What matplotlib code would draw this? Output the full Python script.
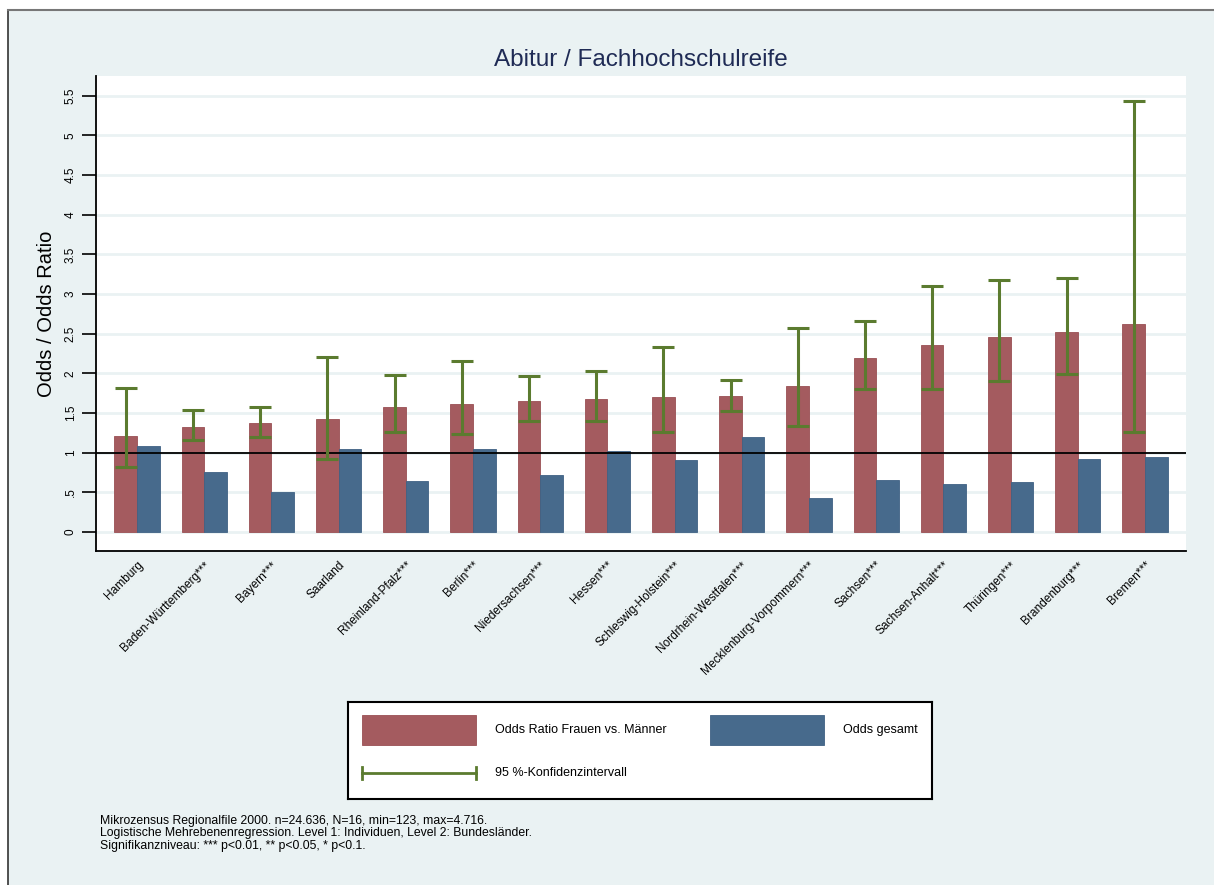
import matplotlib
matplotlib.use("Agg")
import matplotlib.pyplot as plt
import numpy as np
from matplotlib.patches import Rectangle
from matplotlib.lines import Line2D

plt.rcParams["font.family"] = ["Liberation Sans", "DejaVu Sans"]

# data
laender = ["Hamburg", "Baden-Württemberg***", "Bayern***", "Saarland",
           "Rheinland-Pfalz***", "Berlin***", "Niedersachsen***", "Hessen***",
           "Schleswig-Holstein***", "Nordrhein-Westfalen***",
           "Mecklenburg-Vorpommern***", "Sachsen***", "Sachsen-Anhalt***",
           "Thüringen***", "Brandenburg***", "Bremen***"]
odds_ratio = [1.21, 1.33, 1.37, 1.42, 1.57, 1.62, 1.65, 1.68,
              1.70, 1.71, 1.84, 2.19, 2.36, 2.46, 2.52, 2.62]
ci_lower = [0.82, 1.16, 1.20, 0.92, 1.26, 1.23, 1.40, 1.40,
            1.26, 1.52, 1.34, 1.80, 1.80, 1.90, 1.99, 1.26]
ci_upper = [1.81, 1.54, 1.57, 2.21, 1.98, 2.15, 1.97, 2.03,
            2.33, 1.92, 2.57, 2.66, 3.10, 3.18, 3.20, 5.44]
odds_gesamt = [1.09, 0.76, 0.50, 1.05, 0.64, 1.05, 0.72, 1.02,
               0.91, 1.20, 0.43, 0.66, 0.60, 0.63, 0.92, 0.94]
yticks = [0, 0.5, 1, 1.5, 2, 2.5, 3, 3.5, 4, 4.5, 5, 5.5]
ytick_labels = ["0", ".5", "1", "1.5", "2", "2.5", "3", "3.5", "4", "4.5", "5", "5.5"]

RED = "#A45B5F"
RED_EDGE = "#9A4F54"
BLUE = "#476A8C"
BLUE_EDGE = "#3F6184"
GREEN = "#5B7B2F"
BG = "#EAF2F3"
W, H = 1214, 885

fig = plt.figure(figsize=(W / 100, H / 100), dpi=100, facecolor="white")
fig.patches.append(Rectangle((8 / W, 0), 1 - 8 / W, 1 - 10 / H, transform=fig.transFigure,
                             facecolor=BG, edgecolor="none", zorder=-10))
fig.lines.append(Line2D([8 / W, 8 / W], [0, 1 - 10 / H], transform=fig.transFigure,
                        color="#333333", lw=1.2))
fig.lines.append(Line2D([8 / W, 1], [1 - 10 / H, 1 - 10 / H], transform=fig.transFigure,
                        color="#777777", lw=1.5))

ax = fig.add_axes([96 / W, 1 - 551 / H, (1186 - 96) / W, (551 - 76) / H])
ax.set_facecolor("white")

x = np.arange(len(laender))
bw = 0.335
ax.bar(x - bw / 2, odds_ratio, bw, color=RED, edgecolor=RED_EDGE, linewidth=0.6, zorder=3)
ax.bar(x + bw / 2, odds_gesamt, bw, color=BLUE, edgecolor=BLUE_EDGE, linewidth=0.6, zorder=3)
orr = np.array(odds_ratio)
err = [orr - np.array(ci_lower), np.array(ci_upper) - orr]
ax.errorbar(x - bw / 2, orr, yerr=err, fmt="none", ecolor=GREEN, elinewidth=2.2,
            capsize=8, capthick=2.2, zorder=4)
ax.axhline(1, color="black", lw=1.3, zorder=3.5)

ax.set_xlim(-0.61, len(laender) - 1 + 0.61)
ax.set_ylim(-0.24, 5.75)
ax.set_yticks(yticks)
ax.set_yticklabels(ytick_labels, rotation=90, va="center", fontsize=8.5)
ax.tick_params(axis="y", length=10, width=1.2, pad=4)
ax.grid(axis="y", color=BG, lw=2, zorder=0)
ax.set_axisbelow(True)
ax.set_xticks(x)
ax.set_xticklabels(laender, rotation=45, ha="right", rotation_mode="anchor", fontsize=8.6)
ax.tick_params(axis="x", length=0, pad=6)
for s in ["top", "right"]:
    ax.spines[s].set_visible(False)
for s in ["left", "bottom"]:
    ax.spines[s].set_linewidth(1.3)
ax.set_ylabel("Odds / Odds Ratio", fontsize=14.5, labelpad=6)
ax.set_title("Abitur / Fachhochschulreife", fontsize=17.5, color="#1F2B55", pad=7)

# legend box
lg = fig.add_axes([348 / W, 1 - 799 / H, (932 - 348) / W, (799 - 702) / H])
lg.set_xlim(0, 584)
lg.set_ylim(97, 0)
lg.set_xticks([])
lg.set_yticks([])
for s in lg.spines.values():
    s.set_linewidth(1.5)
lg.add_patch(Rectangle((14, 13), 114, 30, facecolor=RED, edgecolor=RED_EDGE, lw=0.6))
lg.text(147, 28, "Odds Ratio Frauen vs. Männer", va="center", fontsize=9)
lg.add_patch(Rectangle((362, 13), 114, 30, facecolor=BLUE, edgecolor=BLUE_EDGE, lw=0.6))
lg.text(495, 28, "Odds gesamt", va="center", fontsize=9)
lg.plot([14, 128], [71, 71], color=GREEN, lw=2)
lg.plot([14, 14], [65, 77], color=GREEN, lw=2)
lg.plot([128, 128], [65, 77], color=GREEN, lw=2)
lg.text(147, 71, "95 %-Konfidenzintervall", va="center", fontsize=9)

note = ("Mikrozensus Regionalfile 2000. n=24.636, N=16, min=123, max=4.716.\n"
        "Logistische Mehrebenenregression. Level 1: Individuen, Level 2: Bundesländer.\n"
        "Signifikanzniveau: *** p<0.01, ** p<0.05, * p<0.1.")
fig.text(100 / W, 1 - 815 / H, note, va="top", ha="left", fontsize=8.8, linespacing=1.03)

fig.savefig("out.png", dpi=100, facecolor=fig.get_facecolor())
